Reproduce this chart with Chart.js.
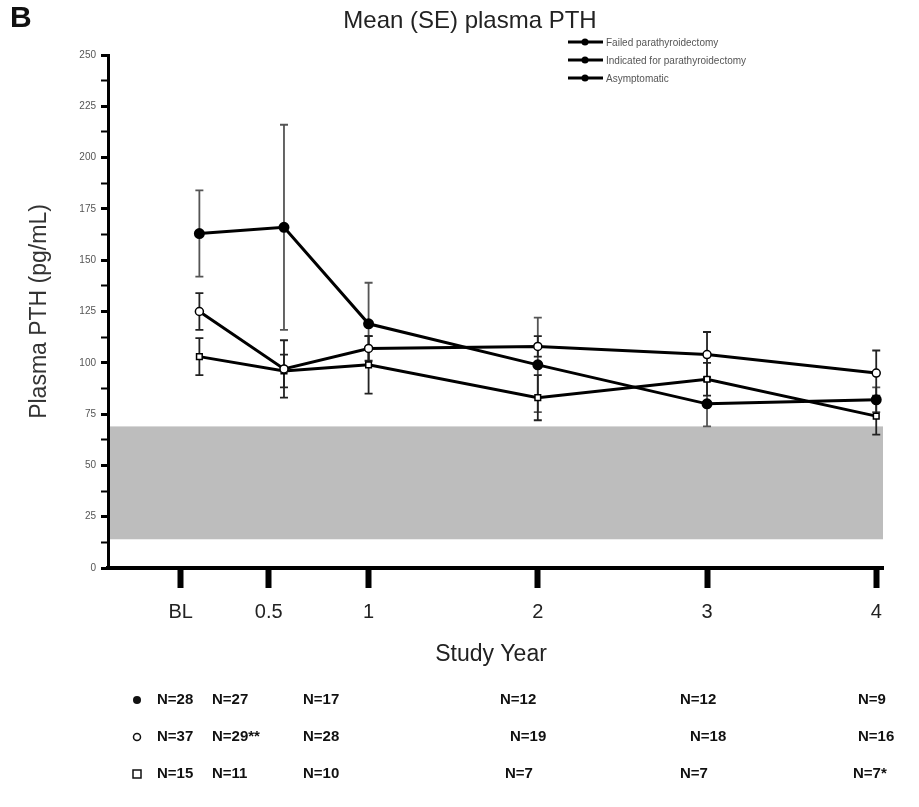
<!DOCTYPE html>
<html>
<head>
<meta charset="utf-8">
<script src="https://cdn.jsdelivr.net/npm/chart.js@4.4.1/dist/chart.umd.min.js"></script>
<style>
  html, body { margin: 0; padding: 0; background: #fff; }
  #wrap { position: relative; width: 919px; height: 807px; }
</style>
</head>
<body>
<div id="wrap"><canvas id="pthChart" width="919" height="807"></canvas></div>
<script>
// Study visits (BL = baseline), plotted on a year axis
const visitYears = [0, 0.5, 1, 2, 3, 4];
const tickLabels = ['BL', '0.5', '1', '2', '3', '4'];
const tickYears = [-0.11, 0.41, 1, 2, 3, 4];

const seriesNames = ['Failed parathyroidectomy', 'Indicated for parathyroidectomy', 'Asymptomatic'];
const failedMean = [163, 166, 119, 99, 80, 82];
const failedSE = [21, 50, 20, 23, 11, 6];
const indicatedMean = [125, 97, 107, 108, 104, 95];
const indicatedSE = [9, 14, 6, 5, 11, 11];
const asymptomaticMean = [103, 96, 99, 83, 92, 74];
const asymptomaticSE = [9, 8, 14, 11, 8, 9];

// reference range shaded in grey (pg/mL)
const normalRange = [14, 69];

// subjects per visit
const nFailed = ['N=28', 'N=27', 'N=17', 'N=12', 'N=12', 'N=9'];
const nIndicated = ['N=37', 'N=29**', 'N=28', 'N=19', 'N=18', 'N=16'];
const nAsymptomatic = ['N=15', 'N=11', 'N=10', 'N=7', 'N=7', 'N=7*'];

const FONT = '"Liberation Sans", Arial, sans-serif';
const errors = [failedSE, indicatedSE, asymptomaticSE];

function toPoints(means) {
  return visitYears.map((yr, i) => ({ x: yr, y: means[i] }));
}

// grey band for the normal range, plus SE whiskers
const bandPlugin = {
  id: 'normalBand',
  beforeDatasetsDraw(chart) {
    const { ctx, chartArea, scales } = chart;
    const top = scales.y.getPixelForValue(normalRange[1]);
    const bottom = scales.y.getPixelForValue(normalRange[0]);
    ctx.save();
    ctx.fillStyle = '#bdbdbd';
    ctx.fillRect(chartArea.left + 2, top, chartArea.right - chartArea.left - 2, bottom - top);

    ctx.lineWidth = 1.8;
    chart.data.datasets.forEach((ds, di) => {
      const meta = chart.getDatasetMeta(di);
      ctx.strokeStyle = di === 0 ? '#555' : '#222';
      meta.data.forEach((pt, i) => {
        const m = ds.data[i].y;
        const se = errors[di][i];
        const yTop = scales.y.getPixelForValue(m + se);
        const yBot = scales.y.getPixelForValue(m - se);
        ctx.beginPath();
        ctx.moveTo(pt.x, yTop); ctx.lineTo(pt.x, yBot);
        ctx.moveTo(pt.x - 4, yTop); ctx.lineTo(pt.x + 4, yTop);
        ctx.moveTo(pt.x - 4, yBot); ctx.lineTo(pt.x + 4, yBot);
        ctx.stroke();
      });
    });
    ctx.restore();
  }
};

// panel letter, title, legend, x title and N table
const textPlugin = {
  id: 'extraText',
  afterDraw(chart) {
    const { ctx } = chart;
    ctx.save();
    ctx.fillStyle = '#111';
    ctx.textBaseline = 'middle';
    ctx.font = 'bold 30px ' + FONT;
    ctx.fillText('B', 10, 19);

    ctx.font = '24px ' + FONT;
    ctx.fillStyle = '#222';
    ctx.textAlign = 'center';
    ctx.fillText('Mean (SE) plasma PTH', 470, 21);

    ctx.font = '23px ' + FONT;
    ctx.fillText('Study Year', 491, 655);

    // legend
    ctx.textAlign = 'left';
    ctx.font = '10px ' + FONT;
    chart.data.datasets.forEach((ds, di) => {
      const y = 42 + di * 18;
      ctx.strokeStyle = '#000';
      ctx.lineWidth = 3;
      ctx.beginPath(); ctx.moveTo(568, y); ctx.lineTo(603, y); ctx.stroke();
      ctx.fillStyle = '#000';
      ctx.beginPath(); ctx.arc(585, y, 3.5, 0, Math.PI * 2); ctx.fill();
      ctx.fillStyle = '#555';
      ctx.fillText(ds.label, 606, y + 1);
    });

    // N table
    const rows = [nFailed, nIndicated, nAsymptomatic];
    const colX = [
      [157, 212, 303, 500, 680, 858],
      [157, 212, 303, 510, 690, 858],
      [157, 212, 303, 505, 680, 853]
    ];
    ctx.font = 'bold 15px ' + FONT;
    rows.forEach((row, ri) => {
      const y = 700 + ri * 37;
      ctx.fillStyle = '#111';
      ctx.strokeStyle = '#111';
      ctx.lineWidth = 1.5;
      if (ri === 0) {
        ctx.beginPath(); ctx.arc(137, y, 4, 0, Math.PI * 2); ctx.fill();
      } else if (ri === 1) {
        ctx.beginPath(); ctx.arc(137, y, 3.5, 0, Math.PI * 2); ctx.stroke();
      } else {
        ctx.strokeRect(133, y - 4, 8, 8);
      }
      row.forEach((txt, ci) => {
        ctx.fillText(txt, colX[ri][ci], y);
      });
    });
    ctx.restore();
  }
};

new Chart(document.getElementById('pthChart'), {
  type: 'line',
  data: {
    datasets: [
      {
        label: seriesNames[0],
        data: toPoints(failedMean),
        borderColor: '#000', borderWidth: 3,
        pointStyle: 'circle', pointRadius: 4,
        pointBackgroundColor: '#000', pointBorderColor: '#000'
      },
      {
        label: seriesNames[1],
        data: toPoints(indicatedMean),
        borderColor: '#000', borderWidth: 3,
        pointStyle: 'circle', pointRadius: 4, pointBorderWidth: 1.5,
        pointBackgroundColor: '#fff', pointBorderColor: '#000'
      },
      {
        label: seriesNames[2],
        data: toPoints(asymptomaticMean),
        borderColor: '#000', borderWidth: 3,
        pointStyle: 'rect', pointRadius: 4, pointBorderWidth: 1.5,
        pointBackgroundColor: '#fff', pointBorderColor: '#000'
      }
    ]
  },
  options: {
    responsive: false,
    animation: false,
    devicePixelRatio: 1,
    layout: { padding: { left: 0, top: 55, right: 36, bottom: 0 } },
    plugins: { legend: { display: false }, tooltip: { enabled: false } },
    scales: {
      x: {
        type: 'linear',
        bounds: 'data',
        min: -0.54,
        max: 4.04,
        afterBuildTicks: (scale) => { scale.ticks = tickYears.map(v => ({ value: v })); },
        afterFit: (scale) => { scale.height = 239; },
        ticks: {
          autoSkip: false, maxRotation: 0, padding: 12,
          color: '#222', font: { family: FONT, size: 20 },
          callback: (v, i) => tickLabels[i]
        },
        grid: { drawOnChartArea: false, drawTicks: true, tickLength: 20, tickWidth: 6, tickColor: '#000' },
        border: { display: true, color: '#000', width: 4 }
      },
      y: {
        min: 0,
        max: 250,
        afterFit: (scale) => { scale.width = 108; },
        ticks: {
          stepSize: 12.5, autoSkip: false, padding: 5,
          color: '#555', font: { family: FONT, size: 10 },
          callback: (v) => (v % 25 === 0 ? v : '')
        },
        grid: {
          drawOnChartArea: false, drawTicks: true, tickLength: 7, tickColor: '#000',
          tickWidth: (ctx) => (ctx.tick && ctx.tick.value % 25 === 0 ? 3 : 2)
        },
        border: { display: true, color: '#000', width: 3 },
        title: {
          display: true, text: 'Plasma PTH (pg/mL)', color: '#333',
          font: { family: FONT, size: 23 }, padding: { top: 26, bottom: 0 }
        }
      }
    }
  },
  plugins: [bandPlugin, textPlugin]
});
</script>
</body>
</html>
